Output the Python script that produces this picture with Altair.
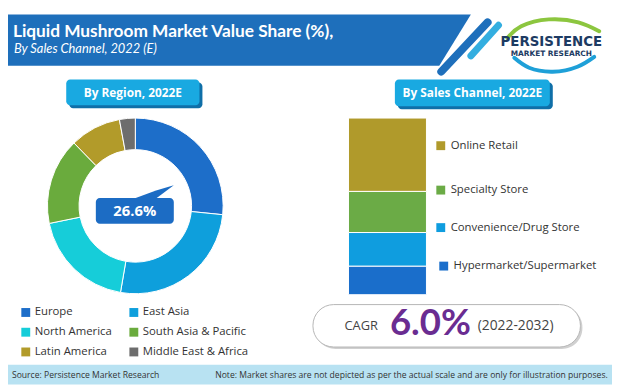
import altair as alt
import pandas as pd

# ---------------- data ----------------
regions = ["Europe", "East Asia", "North America", "South Asia & Pacific",
           "Latin America", "Middle East & Africa"]
region_share = [26.6, 26.1, 19.1, 15.9, 9.4, 2.9]
region_colors = ["#1d6ec9", "#0e9fdc", "#16cdd9", "#6aab3d", "#b29b2a", "#6d6d6d"]

channels = ["Hypermarket/Supermarket", "Convenience/Drug Store",
            "Specialty Store", "Online Retail"]
channel_share = [16.2, 19.0, 23.3, 41.5]
channel_colors = ["#1a6ecb", "#0f9ddf", "#6bab46", "#b09a2b"]

title_text = "Liquid Mushroom Market Value Share (%),"
subtitle_text = "By Sales Channel, 2022 (E)"
highlight_text = "26.6%"
cagr_value = "6.0%"
cagr_period = "(2022-2032)"
source_text = "Source: Persistence Market Research"
note_text = "Note: Market shares are not depicted as per the actual scale and are only for illustration purposes."

# ---------------- layout helpers ----------------
OFF = 8  # page margin


def P(v):
    return v - OFF


ONE = pd.DataFrame({"a": [0]})
SANS = "Open Sans"
TITLEF = "Lato"


def rect(x0, y0, x1, y1, color, r=0, **kw):
    return alt.Chart(ONE).mark_rect(color=color, cornerRadius=r, **kw).encode(
        x=alt.value(P(x0)), x2=alt.value(P(x1)), y=alt.value(P(y0)), y2=alt.value(P(y1)))


def text(x, y, s, size, color="#333333", weight="normal", align="left", font=SANS, style="normal"):
    return alt.Chart(ONE).mark_text(text=s, fontSize=size, color=color, fontWeight=weight,
                                    align=align, baseline="middle", font=font,
                                    fontStyle=style).encode(
        x=alt.value(P(x)), y=alt.value(P(y)))


def poly_area(xs, ys, y2s, color):
    df = pd.DataFrame({"x": [P(v) for v in xs], "y": [P(v) for v in ys], "y2": [P(v) for v in y2s]})
    return alt.Chart(df).mark_area(color=color, opacity=1).encode(
        x=alt.X("x:Q", scale=None), y=alt.Y("y:Q", scale=None), y2="y2:Q")


def seg(x0, y0, x1, y1, color, w):
    df = pd.DataFrame({"x": [P(x0), P(x1)], "y": [P(y0), P(y1)]})
    return alt.Chart(df).mark_line(color=color, strokeWidth=w, strokeCap="round").encode(
        x=alt.X("x:Q", scale=None), y=alt.Y("y:Q", scale=None))


def curve(xs, ys, color, w):
    df = pd.DataFrame({"x": [P(v) for v in xs], "y": [P(v) for v in ys]})
    return alt.Chart(df).mark_line(color=color, strokeWidth=w, strokeCap="round",
                                   interpolate="natural").encode(
        x=alt.X("x:Q", scale=None), y=alt.Y("y:Q", scale=None))


layers = []

# ---------------- header ----------------
layers.append(poly_area([0, 445, 477], [12, 12, 12], [64, 64, 12], "#1e6fbb"))
layers.append(seg(447, 70, 494, 20, "#1e6fbb", 8))
layers.append(seg(477, 54, 505, 23, "#33aee0", 7))
layers.append(text(13, 30, title_text, 17.5, "white", "bold", font=TITLEF))
layers.append(text(14, 47, subtitle_text, 13, "white", "normal", font=TITLEF, style="italic"))

# logo
layers.append(curve([514, 528, 556, 586, 607], [36, 24, 17, 20, 29], "#8cc63f", 4))
layers.append(curve([521, 536, 560, 585, 602], [56, 66, 70, 65, 55], "#1ea0d8", 4))
layers.append(text(558.5, 39, "PERSISTENCE", 15, "#1d3b63", "bold", align="center",
                   font="DejaVu Sans Condensed, Roboto, sans-serif"))
layers.append(text(558.5, 52.5, "MARKET RESEARCH", 7.5, "#1d3b63", "bold", align="center",
                   font="DejaVu Sans"))

# ---------------- section buttons ----------------
layers.append(rect(70, 81, 205, 107, "#0f6fa8", 4))
layers.append(rect(67, 78, 202, 104, "#19a9e1", 4))
layers.append(text(134.5, 91.5, "By Region, 2022E", 12, "white", "bold", align="center"))
layers.append(rect(403, 81, 560, 108, "#0f6fa8", 4))
layers.append(rect(400, 78, 557, 105, "#19a9e1", 4))
layers.append(text(478.5, 92, "By Sales Channel, 2022E", 12, "white", "bold", align="center"))

# ---------------- donut ----------------
donut_df = pd.DataFrame({"region": regions, "share": region_share, "idx": list(range(len(regions)))})
donut = alt.Chart(donut_df).mark_arc(radius=89, radius2=57, stroke="white", strokeWidth=1).encode(
    theta=alt.Theta("share:Q", stack=True),
    color=alt.Color("region:N", scale=alt.Scale(domain=regions, range=region_colors), legend=None),
    order=alt.Order("idx:Q"),
    x=alt.value(P(137)), y=alt.value(P(206)),
)
layers.append(donut)

# callout
layers.append(poly_area([136, 158, 176], [198.5, 190.5, 185], [198.5, 198.5, 185], "#1c6cc4"))
layers.append(rect(97, 198, 176, 224, "#1c6cc4", 4))
layers.append(text(136.5, 211.5, highlight_text, 15, "white", "bold", align="center"))

# region legend
leg_x = [26, 135.5]
leg_y = [314, 334, 354]
rl = pd.DataFrame({
    "region": regions,
    "lx": [P(leg_x[i % 2]) for i in range(len(regions))],
    "ly": [P(leg_y[i // 2]) for i in range(len(regions))],
})
rl["tx"] = rl["lx"] + 9
reg_leg_sq = alt.Chart(rl).mark_square(size=81, opacity=1, filled=True).encode(
    x=alt.X("lx:Q", scale=None), y=alt.Y("ly:Q", scale=None),
    color=alt.Color("region:N", scale=alt.Scale(domain=regions, range=region_colors), legend=None))
reg_leg_tx = alt.Chart(rl).mark_text(align="left", baseline="middle", fontSize=11.5,
                                     font=SANS, color="#333333").encode(
    x=alt.X("tx:Q", scale=None), y=alt.Y("ly:Q", scale=None), text="region:N")
layers += [reg_leg_sq, reg_leg_tx]

# ---------------- stacked bar ----------------
bar_df = pd.DataFrame({"channel": channels, "share": channel_share,
                       "idx": list(range(len(channels))), "grp": ["2022E"] * len(channels)})
bar = alt.Chart(bar_df).mark_bar(stroke="white", strokeWidth=1).encode(
    x=alt.X("grp:N", axis=None,
            scale=alt.Scale(range=[P(353), P(432)], paddingInner=0, paddingOuter=0)),
    y=alt.Y("share:Q", stack="zero", axis=None,
            scale=alt.Scale(domain=[0, 100], range=[P(296), P(117)])),
    color=alt.Color("channel:N", scale=alt.Scale(domain=channels, range=channel_colors), legend=None),
    order=alt.Order("idx:Q"),
)
layers.append(bar)

ch_leg_x = [449.5, 446.5, 446.5, 446.5]
ch_leg_y = [267, 228, 190, 145]
cl = pd.DataFrame({"channel": channels, "lx": [P(v) for v in ch_leg_x], "ly": [P(v) for v in ch_leg_y]})
cl["tx"] = cl["lx"] + 10
ch_leg_sq = alt.Chart(cl).mark_square(size=81, opacity=1, filled=True).encode(
    x=alt.X("lx:Q", scale=None), y=alt.Y("ly:Q", scale=None),
    color=alt.Color("channel:N", scale=alt.Scale(domain=channels, range=channel_colors), legend=None))
ch_leg_tx = alt.Chart(cl).mark_text(align="left", baseline="middle", fontSize=11.5,
                                    font=SANS, color="#333333").encode(
    x=alt.X("tx:Q", scale=None), y=alt.Y("ly:Q", scale=None), text="channel:N")
layers += [ch_leg_sq, ch_leg_tx]

# ---------------- CAGR box ----------------
layers.append(rect(319, 308, 590, 351, "#d0d0d0", 21))
layers.append(rect(317, 306, 588, 349, "white", 21, stroke="#b5b5b5", strokeWidth=1))
layers.append(text(349, 328, "CAGR", 13, "#444444"))
layers.append(text(395, 326, cagr_value, 37, "#6a2c91", "bold", font=TITLEF))
layers.append(text(484, 328, cagr_period, 14, "#444444"))

# ---------------- footer ----------------
layers.append(rect(0, 367, 620, 387, "#b8e2f2"))
layers.append(text(12, 377, source_text, 8.7, "#333333"))
layers.append(text(218, 377, note_text, 8.7, "#333333"))

chart = alt.layer(*layers).resolve_scale(
    x="independent", y="independent", color="independent"
).properties(
    width=612, height=379, padding=0, autosize="none", background="white"
).configure_view(stroke=None)

chart.save("out.html", embed_options={"renderer": "svg", "actions": False})
